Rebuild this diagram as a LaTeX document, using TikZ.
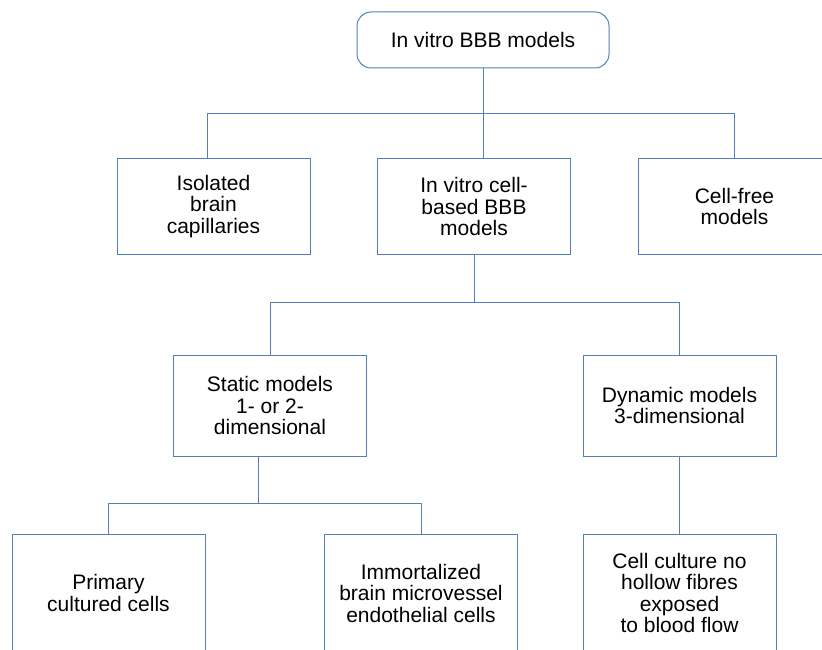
\documentclass[tikz,border=0pt]{standalone}
\usepackage{fontspec}
\setmainfont{Liberation Sans}
\usepackage{tikz}
\usetikzlibrary{positioning}
\definecolor{boxblue}{RGB}{84,128,186}
\tikzstyle{block} = [rectangle, draw=boxblue, line width=1pt, fill=white,
    align=center, minimum width=193pt, minimum height=95pt, inner sep=2pt,
    font=\fontsize{21}{21.5}\selectfont]
\tikzstyle{rootblock} = [block, rounded corners=14pt, minimum width=252pt, minimum height=56pt]
\tikzstyle{line} = [draw=boxblue, line width=1pt]

\begin{document}
\begin{tikzpicture}[x=1pt, y=-1pt]
  \useasboundingbox (0,0) rectangle (822,650);
  \clip (0,0) rectangle (822,650);
  % nodes
  \node [rootblock] (root) at (483,40) {In vitro BBB models};
  \node [block] (isolated) at (213.5,206.5) {Isolated\\brain\\capillaries};
  \node [block] (cellbased) at (474,206.5) {In vitro cell-\\based BBB\\models};
  \node [block] (cellfree) at (734.5,206.5) {Cell-free\\models};
  \node [block, minimum height=101pt] (static) at (270,405.5) {Static models\\1- or 2-\\dimensional};
  \node [block, minimum height=101pt] (dynamic) at (679.5,405.5) {Dynamic models\\3-dimensional};
  \node [block, minimum height=118pt] (primary) at (108.5,593) {Primary\\cultured cells};
  \node [block, minimum height=118pt] (immortal) at (421,593) {Immortalized\\brain microvessel\\endothelial cells};
  \node [block, minimum height=118pt] (culture) at (679.5,593) {Cell culture no\\hollow fibres\\exposed\\to blood flow};
  % edges
  \path [line] (root.south) -- ++(0,45) coordinate (busa);
  \path [line] (busa) -| ([xshift=-6.5pt]isolated.north);
  \path [line] (busa) -| (cellfree.north);
  \path [line] (busa) -- ([xshift=9pt]cellbased.north);
  \path [line] (cellbased.south) -- ++(0,48) coordinate (busb);
  \path [line] (busb) -| (static.north);
  \path [line] (busb) -| (dynamic.north);
  \path [line] ([xshift=-12pt]static.south) -- ++(0,47) coordinate (busc);
  \path [line] (busc) -| (primary.north);
  \path [line] (busc) -| (immortal.north);
  \path [line] (dynamic.south) -- (culture.north);
\end{tikzpicture}
\end{document}
